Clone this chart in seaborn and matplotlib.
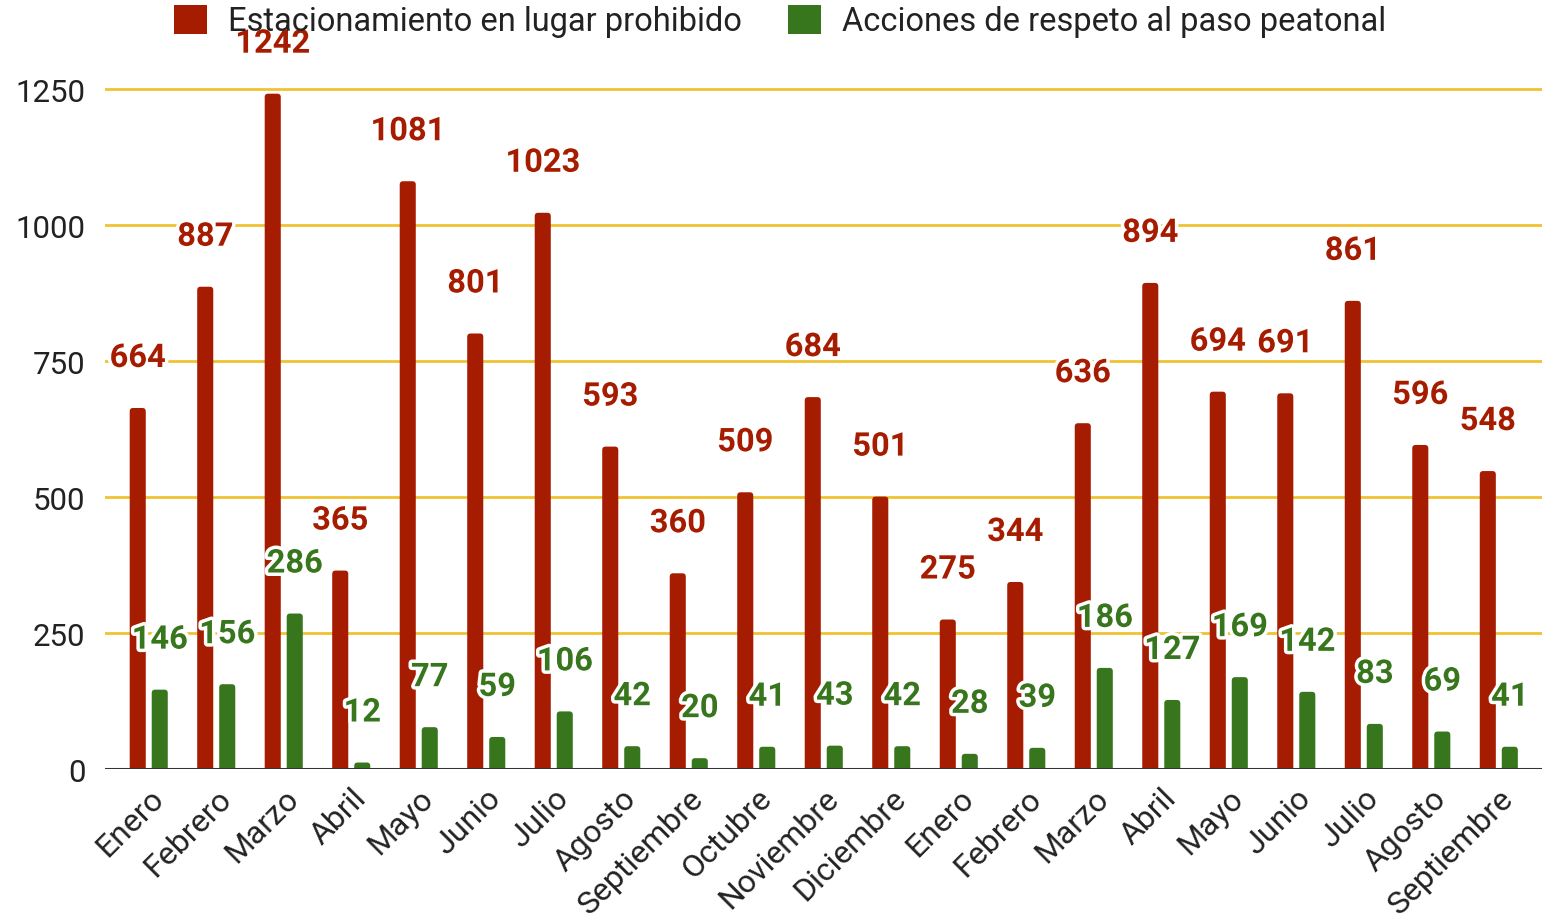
import pandas as pd
import matplotlib
matplotlib.use("Agg")
from matplotlib import pyplot as plt
from matplotlib.patches import FancyBboxPatch
import matplotlib.patheffects as pe
import matplotlib.transforms as mtransforms
import seaborn as sns

# datos
meses = ["Enero", "Febrero", "Marzo", "Abril", "Mayo", "Junio", "Julio", "Agosto",
         "Septiembre", "Octubre", "Noviembre", "Diciembre",
         "Enero", "Febrero", "Marzo", "Abril", "Mayo", "Junio", "Julio", "Agosto",
         "Septiembre"]
estacionamiento = [664, 887, 1242, 365, 1081, 801, 1023, 593, 360, 509, 684, 501,
                   275, 344, 636, 894, 694, 691, 861, 596, 548]
peatonal = [146, 156, 286, 12, 77, 59, 106, 42, 20, 41, 43, 42,
            28, 39, 186, 127, 169, 142, 83, 69, 41]
series = ["Estacionamiento en lugar prohibido", "Acciones de respeto al paso peatonal"]
colores = ["#a61c00", "#38761d"]

n = len(meses)
df = pd.DataFrame({
    "idx": list(range(n)) * 2,
    "valor": estacionamiento + peatonal,
    "serie": [series[0]] * n + [series[1]] * n,
})

sns.set_theme(style="white")
plt.rcParams["font.family"] = ["Roboto", "DejaVu Sans"]

fig = plt.figure(figsize=(15.42, 9.2), dpi=100)
ax = fig.add_axes([0.068, 0.163, 0.932, 0.792])

sns.barplot(data=df, x="idx", y="valor", hue="serie", palette=colores, saturation=1,
            width=0.652, gap=0.27, ax=ax, legend=False)

ax.set_xlim(-0.65, n - 0.36)
ax.set_ylim(0, 1340)

# esquinas redondeadas
ypx = 0.792 * 920 / 1340
asp = (1 / ypx) / (1 / (0.932 * 1542 / (n - 0.36 + 0.65)))
barras = list(ax.patches)
for p in barras:
    x, w, h = p.get_x(), p.get_width(), p.get_height()
    fb = FancyBboxPatch((x, -10), w, h + 10,
                        boxstyle="round,pad=0,rounding_size=0.05",
                        mutation_aspect=asp, facecolor=p.get_facecolor(),
                        edgecolor="none", zorder=3)
    p.remove()
    ax.add_patch(fb)
    # etiqueta
    cx = x + w / 2
    col = p.get_facecolor()
    ax.annotate(f"{int(round(h))}", (cx, h), xytext=(0, 36), textcoords="offset points",
                ha="center", va="center", fontsize=23.5, fontweight="bold", color=col,
                zorder=5, path_effects=[pe.withStroke(linewidth=5, foreground="white")])

ax.set_yticks([0, 250, 500, 750, 1000, 1250])
ax.yaxis.grid(True, color="#f1c232", linewidth=2)
ax.set_axisbelow(True)
ax.axhline(0, color="#333333", linewidth=2.2, zorder=4)
for s in ax.spines.values():
    s.set_visible(False)

ax.set_xticks(range(n))
ax.set_xticklabels(meses, rotation=45, ha="right", rotation_mode="anchor")
offset = mtransforms.ScaledTranslation(16 / 100, -6 / 100, fig.dpi_scale_trans)
for lbl in ax.get_xticklabels():
    lbl.set_transform(lbl.get_transform() + offset)
ax.tick_params(axis="x", length=0, pad=10, labelsize=23, labelcolor="#222222")
ax.tick_params(axis="y", length=0, pad=14, labelsize=22.5, labelcolor="#222222")
ax.set_xlabel("")
ax.set_ylabel("")

handles = [FancyBboxPatch((0, 0), 1, 1, boxstyle="round,pad=0,rounding_size=0.15",
                          facecolor=c, edgecolor="none") for c in colores]
fig.legend(handles, series, loc="center", bbox_to_anchor=(0.506, 0.976), ncol=2,
           frameon=False, fontsize=23.5, handlelength=1.0, handleheight=1.0,
           handletextpad=0.67, columnspacing=1.4, labelcolor="#222222")

fig.savefig("out.png", dpi=100)
